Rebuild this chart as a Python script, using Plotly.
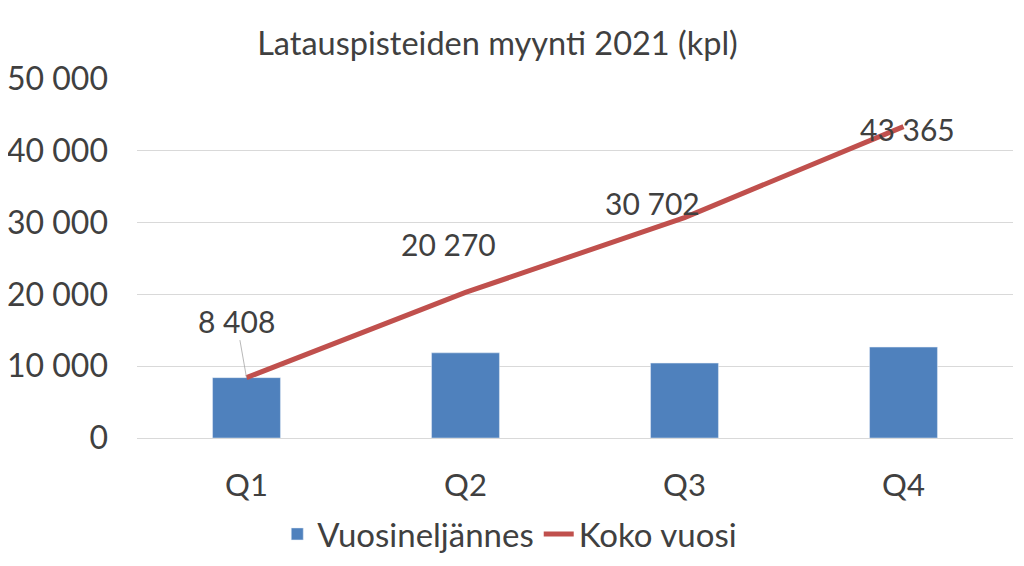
import plotly.graph_objects as go

categories = ["Q1", "Q2", "Q3", "Q4"]
quarterly = [8408, 11862, 10432, 12663]
cumulative = [8408, 20270, 30702, 43365]
label_texts = ["8 408", "20 270", "30 702", "43 365"]

FONT = "Lato"
TXT = "#404040"

fig = go.Figure()
fig.add_trace(go.Bar(x=categories, y=quarterly, name="Vuosineljännes",
                     marker_color="#4f81bd", width=0.31))
fig.add_trace(go.Scatter(x=categories, y=cumulative, name="Koko vuosi",
                         mode="lines", line=dict(color="#c0504d", width=5)))

offsets = [(-10, -57), (-17, -48), (-32, -15), (4, 2)]
for i, (c, v) in enumerate(zip(categories, cumulative)):
    ax, ay = offsets[i]
    fig.add_annotation(x=c, y=v, text=label_texts[i], showarrow=(i == 0),
                       ax=ax, ay=ay, arrowhead=0, arrowwidth=0.8, arrowcolor="#a6a6a6",
                       standoff=0, font=dict(family=FONT, size=30, color=TXT),
                       xshift=0 if i == 0 else ax, yshift=0 if i == 0 else -ay)

fig.update_layout(
    width=1024, height=566,
    margin=dict(l=129, r=19, t=71, b=136),
    paper_bgcolor="white", plot_bgcolor="white",
    separators=", ",
    title=dict(text="Latauspisteiden myynti 2021 (kpl)", x=0.478, xref="container",
               xanchor="center", y=1 - 36 / 566, yanchor="middle", yref="container",
               font=dict(family=FONT, size=32.5, color=TXT)),
    font=dict(family=FONT, color=TXT),
    showlegend=True,
    legend=dict(orientation="h", x=0.49, xref="container", xanchor="center",
                y=1 - 526 / 566, yref="container", yanchor="middle",
                font=dict(family=FONT, size=33, color=TXT), itemwidth=30),
    bargap=0.69,
)
fig.update_yaxes(range=[0, 50000], dtick=10000, tickformat=",d",
                 gridcolor="#d9d9d9", gridwidth=1, zeroline=False, showline=False,
                 tickfont=dict(family=FONT, size=32, color=TXT), ticks="",
                 ticklabelstandoff=28, automargin=False)
fig.update_xaxes(showline=True, linecolor="#d9d9d9", ticks="",
                 tickfont=dict(family=FONT, size=31, color=TXT),
                 ticklabelstandoff=20, automargin=False)

fig.write_html("out.html")
